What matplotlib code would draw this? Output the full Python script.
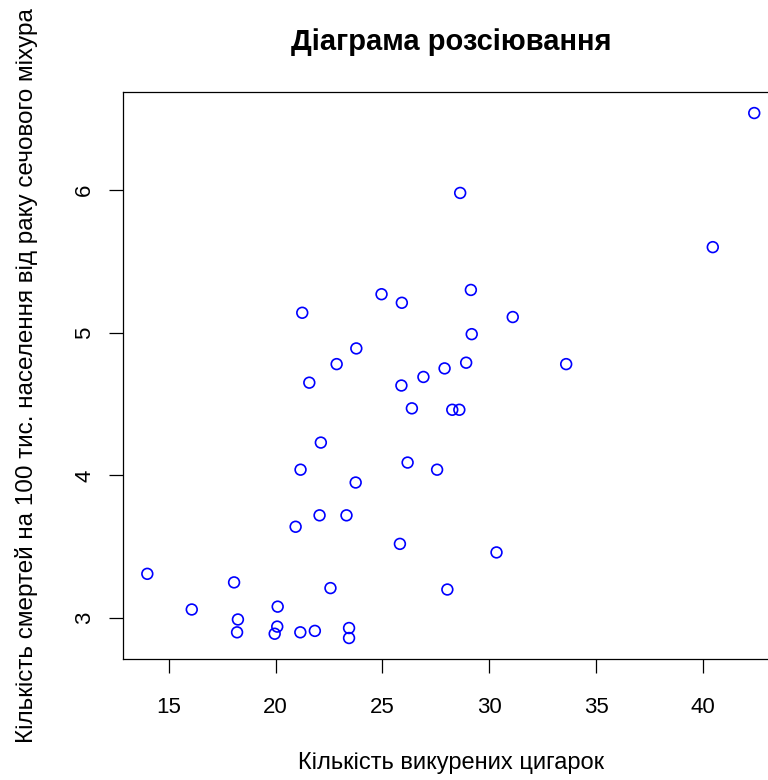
import matplotlib
matplotlib.use('Agg')
import matplotlib.pyplot as plt

plt.rcParams['font.family'] = ['Liberation Sans', 'DejaVu Sans']

# cigarettes smoked per capita (hundreds) and bladder cancer deaths per 100k
cig = [18.20, 25.82, 18.24, 28.60, 31.10, 33.60, 40.46, 28.27, 20.10, 27.91,
       26.18, 22.12, 21.84, 23.44, 21.58, 28.92, 25.91, 26.92, 24.96, 22.06,
       16.08, 27.56, 23.75, 23.32, 42.40, 28.64, 21.16, 29.14, 19.96, 26.38,
       23.44, 23.78, 29.18, 18.06, 20.94, 20.08, 22.57, 14.00, 25.89, 21.17,
       21.25, 22.86, 28.04, 30.34]
blad = [2.90, 3.52, 2.99, 4.46, 5.11, 4.78, 5.60, 4.46, 3.08, 4.75,
        4.09, 4.23, 2.91, 2.86, 4.65, 4.79, 5.21, 4.69, 5.27, 3.72,
        3.06, 4.04, 3.95, 3.72, 6.54, 5.98, 2.90, 5.30, 2.89, 4.47,
        2.93, 4.89, 4.99, 3.25, 3.64, 2.94, 3.21, 3.31, 4.63, 4.04,
        5.14, 4.78, 3.20, 3.46]

xticks = [15, 20, 25, 30, 35, 40]
yticks = [3, 4, 5, 6]

fig = plt.figure(figsize=(7.68, 7.80), dpi=100)
ax = fig.add_axes([0.1602, 0.1551, 0.8535, 0.7269])

ax.scatter(cig, blad, s=60, facecolors='none', edgecolors='blue', linewidths=1.2)

# R-style 4% padding around the data range
xr = max(cig) - min(cig)
yr = max(blad) - min(blad)
ax.set_xlim(min(cig) - 0.04 * xr, max(cig) + 0.04 * xr)
ax.set_ylim(min(blad) - 0.04 * yr, max(blad) + 0.04 * yr)

ax.set_xticks(xticks)
ax.set_yticks(yticks)
ax.tick_params(direction='out', length=10, width=0.9, labelsize=16)
ax.tick_params(axis='x', pad=17)
ax.tick_params(axis='y', pad=10)
for lab in ax.get_yticklabels():
    lab.set_rotation(90)
    lab.set_va('center')
for sp in ax.spines.values():
    sp.set_linewidth(0.9)

ax.set_title('Діаграма розсіювання', fontsize=21, fontweight='bold', pad=30)
ax.set_xlabel('Кількість викурених цигарок', fontsize=17, labelpad=25)
ax.set_ylabel('Кількість смертей на 100 тис. населення від раку сечового міхура',
              fontsize=17.5, labelpad=26)

fig.savefig('out.png', dpi=100)
